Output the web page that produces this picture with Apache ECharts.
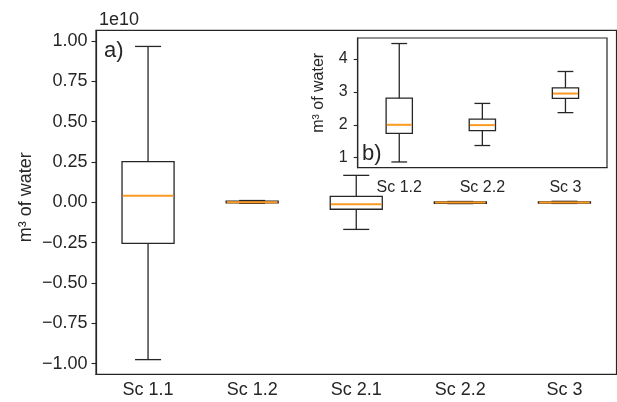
<!DOCTYPE html>
<html>
<head>
<meta charset="utf-8">
<script src="https://cdn.jsdelivr.net/npm/echarts@6/dist/echarts.min.js"></script>
<style>html,body{margin:0;padding:0;background:#fff;}#c{width:617px;height:402px;}</style>
</head>
<body>
<div id="c"></div>
<script>
// ---- main panel (a), values in units of 1e10 m^3 ----
const mainCategories = ['Sc 1.1', 'Sc 1.2', 'Sc 2.1', 'Sc 2.2', 'Sc 3'];
const mainMin = [-0.975, -0.006, -0.168, -0.008, -0.007];
const mainQ1  = [-0.254, -0.004, -0.043, -0.006, -0.005];
const mainMed = [ 0.041,  0.001, -0.012, -0.002, -0.001];
const mainQ3  = [ 0.252,  0.007,  0.037,  0.002,  0.003];
const mainMax = [ 0.966,  0.011,  0.167,  0.005,  0.006];
const mainTicks = [-1.0, -0.75, -0.5, -0.25, 0.0, 0.25, 0.5, 0.75, 1.0];

// ---- inset panel (b) ----
const insetCategories = ['Sc 1.2', 'Sc 2.2', 'Sc 3'];
const insetMin = [0.87, 1.37, 2.37];
const insetQ1  = [1.74, 1.82, 2.80];
const insetMed = [2.00, 1.99, 2.95];
const insetQ3  = [2.81, 2.17, 3.12];
const insetMax = [4.47, 2.65, 3.62];
const insetTicks = [1, 2, 3, 4];

const INK = '#262626';
const MED = '#fb9a22';
const FONT = 'Liberation Sans, Arial, sans-serif';

function buildData(mn, q1, md, q3, mx) {
  return mn.map((v, i) => [i, mn[i], q1[i], md[i], q3[i], mx[i]]);
}

function makeRender(halfFrac, capFrac) {
  return function (params, api) {
    const x = api.value(0);
    const band = api.size([1, 0])[0];
    const hw = band * halfFrac, cw = band * capFrac;
    const pMin = api.coord([x, api.value(1)]);
    const pQ1 = api.coord([x, api.value(2)]);
    const pMed = api.coord([x, api.value(3)]);
    const pQ3 = api.coord([x, api.value(4)]);
    const pMax = api.coord([x, api.value(5)]);
    const cx = pMin[0];
    const ls = { stroke: INK, lineWidth: 1.3, fill: null };
    return {
      type: 'group',
      children: [
        { type: 'line', shape: { x1: cx, y1: pQ3[1], x2: cx, y2: pMax[1] }, style: ls },
        { type: 'line', shape: { x1: cx, y1: pQ1[1], x2: cx, y2: pMin[1] }, style: ls },
        { type: 'line', shape: { x1: cx - cw, y1: pMax[1], x2: cx + cw, y2: pMax[1] }, style: ls },
        { type: 'line', shape: { x1: cx - cw, y1: pMin[1], x2: cx + cw, y2: pMin[1] }, style: ls },
        { type: 'rect', shape: { x: cx - hw, y: pQ3[1], width: 2 * hw, height: pQ1[1] - pQ3[1] },
          style: { stroke: INK, lineWidth: 1.3, fill: 'none' } },
        { type: 'line', shape: { x1: cx - hw + 0.7, y1: pMed[1], x2: cx + hw - 0.7, y2: pMed[1] },
          style: { stroke: MED, lineWidth: 2 } }
      ]
    };
  };
}

const fmtMain = v => (v < 0 ? '\u2212' : '') + Math.abs(v).toFixed(2);

const chart = echarts.init(document.getElementById('c'), null, { renderer: 'canvas' });
chart.setOption({
  animation: false,
  backgroundColor: '#fff',
  textStyle: { fontFamily: FONT },
  grid: [
    { left: 96, top: 30.3, width: 520.5, height: 344, show: true, borderColor: INK, borderWidth: 1.2, backgroundColor: 'transparent', containLabel: false },
    { left: 357.7, top: 38, width: 249.3, height: 129.7, show: true, borderColor: INK, borderWidth: 1.2, backgroundColor: '#fff', containLabel: false, z: 5 }
  ],
  xAxis: [
    { type: 'category', gridIndex: 0, data: mainCategories, boundaryGap: true,
      axisLine: { onZero: false, lineStyle: { color: INK, width: 1.2 } },
      axisTick: { alignWithLabel: true, length: 4.5, lineStyle: { color: INK, width: 1.1 } },
      axisLabel: { color: INK, fontSize: 18, margin: 7, fontFamily: FONT },
      splitLine: { show: false } },
    { type: 'category', gridIndex: 1, data: insetCategories, boundaryGap: true, z: 6,
      axisLine: { onZero: false, lineStyle: { color: INK, width: 1.2 } },
      axisTick: { alignWithLabel: true, length: 4, lineStyle: { color: INK, width: 1.1 } },
      axisLabel: { color: INK, fontSize: 16, margin: 12, fontFamily: FONT },
      splitLine: { show: false } }
  ],
  yAxis: [
    { type: 'value', gridIndex: 0, min: -1.066, max: 1.066,
      name: 'm\u00b3 of water', nameLocation: 'middle', nameGap: 61, nameMoveOverlap: false,
      nameTextStyle: { color: INK, fontSize: 18, fontFamily: FONT, padding: [0, 0, 0, 10] },
      axisLine: { show: true, onZero: false, lineStyle: { color: INK, width: 1.2 } },
      axisTick: { show: true, length: 4.5, customValues: mainTicks, lineStyle: { color: INK, width: 1.1 } },
      axisLabel: { color: INK, fontSize: 18, margin: 8.5, fontFamily: FONT, customValues: mainTicks, formatter: fmtMain },
      splitLine: { show: false } },
    { type: 'value', gridIndex: 1, min: 0.696, max: 4.638, z: 6,
      name: 'm\u00b3 of water', nameLocation: 'middle', nameGap: 31,
      nameTextStyle: { color: INK, fontSize: 16, fontFamily: FONT, padding: [0, 0, 0, 20] },
      axisLine: { show: true, onZero: false, lineStyle: { color: INK, width: 1.2 } },
      axisTick: { show: true, length: 4, customValues: insetTicks, lineStyle: { color: INK, width: 1.1 } },
      axisLabel: { color: INK, fontSize: 16, margin: 10, fontFamily: FONT, customValues: insetTicks, formatter: v => String(v) },
      splitLine: { show: false } }
  ],
  series: [
    { type: 'custom', xAxisIndex: 0, yAxisIndex: 0, renderItem: makeRender(0.25, 0.125),
      encode: { x: 0, y: [1, 2, 3, 4, 5] }, clip: false,
      data: buildData(mainMin, mainQ1, mainMed, mainQ3, mainMax) },
    { type: 'custom', xAxisIndex: 1, yAxisIndex: 1, renderItem: makeRender(0.158, 0.095), z: 7,
      encode: { x: 0, y: [1, 2, 3, 4, 5] }, clip: false,
      data: buildData(insetMin, insetQ1, insetMed, insetQ3, insetMax) }
  ],
  graphic: [
    { type: 'text', left: 99, top: 11, z: 10, style: { text: '1e10', fontSize: 18, fill: INK, fontFamily: FONT } },
    { type: 'text', left: 104, top: 40, z: 10, style: { text: 'a)', fontSize: 22, fill: INK, fontFamily: FONT } },
    { type: 'text', left: 362, top: 143, z: 10, style: { text: 'b)', fontSize: 22, fill: INK, fontFamily: FONT } }
  ]
});
</script>
</body>
</html>
